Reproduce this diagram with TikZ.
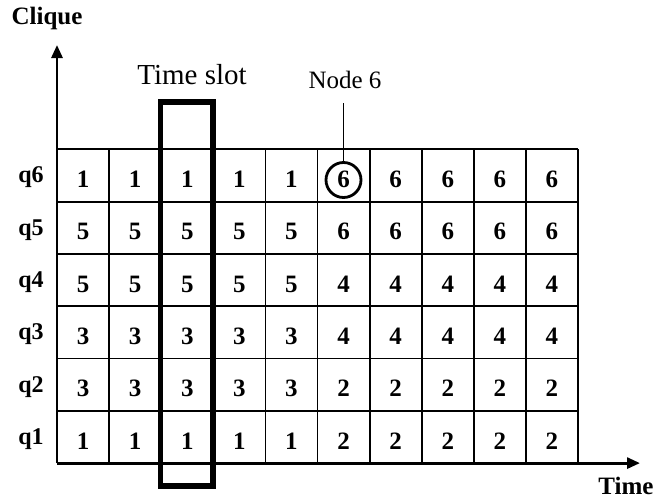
\documentclass[tikz,border=0pt]{standalone}
\usepackage{fontspec}
\setmainfont{Liberation Serif}
\usetikzlibrary{arrows.meta}
\begin{document}
\begin{tikzpicture}[x=1pt,y=-1pt,
  cellnum/.style={font=\fontsize{25}{29}\selectfont\bfseries, inner sep=0pt},
  rowlab/.style={font=\fontsize{24}{28}\selectfont\bfseries, inner sep=0pt, anchor=base},
  axislab/.style={font=\fontsize{25}{29}\selectfont\bfseries, inner sep=0pt},
  plainlab/.style={inner sep=0pt},
  gridline/.style={line width=1.8pt},
  axisline/.style={line width=2.8pt, -{Triangle[length=13pt,width=11pt]}},
  slotbox/.style={draw, line width=5.5pt},
  mark6/.style={draw, circle, line width=2.8pt, minimum size=35pt, inner sep=0pt}]
\useasboundingbox (0,0) rectangle (656,498);
\def\xa{57}\def\cw{52.1}\def\ya{149.3}\def\rh{52.3}
% grid
\foreach \i in {1,...,10}{
  \draw[gridline] ({\xa+\cw*\i},\ya) -- ({\xa+\cw*\i},{\ya+6*\rh});}
\foreach \j in {0,...,5}{
  \draw[gridline] (\xa,{\ya+\rh*\j}) -- ({\xa+10*\cw},{\ya+\rh*\j});}
% axes
\coordinate (origin) at (\xa,{\ya+6*\rh});
\coordinate (ytip) at (\xa,45);
\coordinate (xtip) at (640,{\ya+6*\rh});
\draw[axisline] (origin) -- (ytip);
\draw[axisline] (origin) -- (xtip);
\node[axislab] (clique) at (47,18) {Clique};
\node[axislab, anchor=base] (time) at (626,494) {Time};
% cell numbers
\foreach \row/\vals [count=\j from 0] in {q6/{1,1,1,1,1,6,6,6,6,6},
  q5/{5,5,5,5,5,6,6,6,6,6}, q4/{5,5,5,5,5,4,4,4,4,4},
  q3/{3,3,3,3,3,4,4,4,4,4}, q2/{3,3,3,3,3,2,2,2,2,2},
  q1/{1,1,1,1,1,2,2,2,2,2}}{
  \node[rowlab] (lab-\row) at (31,{\ya+\rh*\j+\rh/2+7.5}) {\row};
  \foreach \v [count=\i from 0] in \vals {
    \node[cellnum] (c-\row-\i) at ({\xa+\cw*\i+\cw/2},{\ya+\rh*\j+\rh/2+4}) {\v};
  }
}
% time slot box
\draw[slotbox] (160.5,102) rectangle (213,486);
\node[plainlab, font=\fontsize{29}{33}\selectfont] (slotlab) at (192,75) {Time slot};
% node 6 marker
\node[mark6] (circ) at (343.5,180) {};
\node[plainlab, font=\fontsize{25}{29}\selectfont, anchor=base] (node6) at (345,88) {Node 6};
\draw[line width=1pt] (node6.south -| circ.north) ++(0,15) -- (circ.north);
\end{tikzpicture}
\end{document}
